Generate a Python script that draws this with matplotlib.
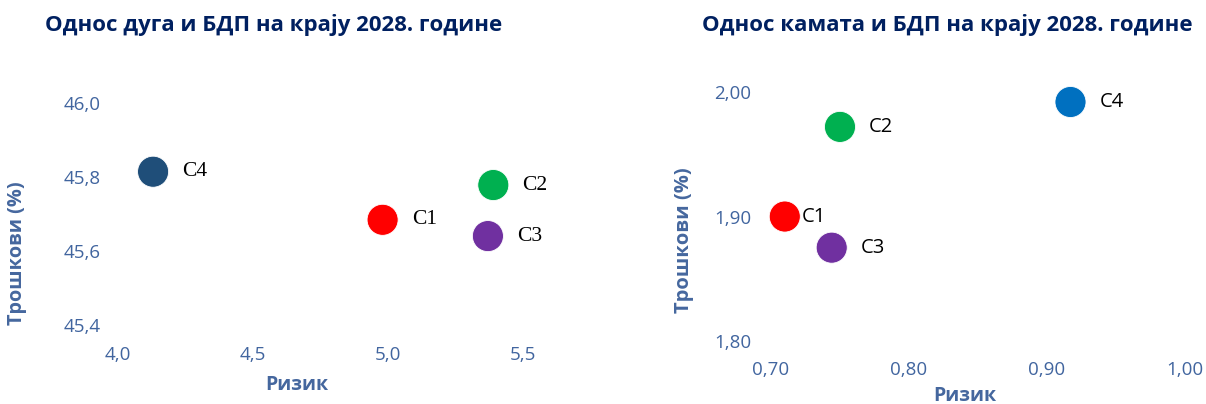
import matplotlib
matplotlib.use("Agg")
import matplotlib.pyplot as plt
from matplotlib.ticker import FixedLocator, FuncFormatter

# данни
names = ["C1", "C2", "C3", "C4"]
colors_left = ["#FF0000", "#00B050", "#7030A0", "#1F4E79"]
colors_right = ["#FF0000", "#00B050", "#7030A0", "#0070C0"]

debt_risk = [4.98, 5.39, 5.37, 4.13]
debt_cost = [45.684, 45.778, 45.640, 45.814]

int_risk = [0.710, 0.750, 0.744, 0.917]
int_cost = [1.900, 1.972, 1.875, 1.992]

left_xticks = [4.0, 4.5, 5.0, 5.5]
left_yticks = [45.4, 45.6, 45.8, 46.0]
right_xticks = [0.70, 0.80, 0.90, 1.00]
right_yticks = [1.80, 1.90, 2.00]

title_left = "Однос дуга и БДП на крају 2028. године"
title_right = "Однос камата и БДП на крају 2028. године"
xlab = "Ризик"
ylab = "Трошкови (%)"

tick_c = "#41659F"
lab_c = "#45679E"
title_c = "#002060"
font = ["Open Sans", "DejaVu Sans"]
plt.rcParams["font.family"] = font

W, H = 1206, 404
fig = plt.figure(figsize=(W / 100, H / 100), dpi=100)


def box(l, t, r, b):
    return [l / W, 1 - b / H, (r - l) / W, (b - t) / H]


def style(ax, xt, yt, fmt_x, fmt_y, xpad, ypad):
    for s in ax.spines.values():
        s.set_visible(False)
    ax.xaxis.set_major_locator(FixedLocator(xt))
    ax.yaxis.set_major_locator(FixedLocator(yt))
    ax.xaxis.set_major_formatter(FuncFormatter(lambda v, p: fmt_x.format(v).replace(".", ",")))
    ax.yaxis.set_major_formatter(FuncFormatter(lambda v, p: fmt_y.format(v).replace(".", ",")))
    ax.tick_params(length=0, labelsize=13.5, labelcolor=tick_c)
    ax.tick_params(axis="x", pad=xpad)
    ax.tick_params(axis="y", pad=ypad)


# левый график
ax1 = fig.add_axes(box(108, 80, 570, 340))
ax1.set_xlim(3.963, 5.674)
ax1.set_ylim(45.359, 46.062)
ax1.scatter(debt_risk, debt_cost, s=500, c=colors_left, edgecolors="white", linewidths=0.6, zorder=3)
for n, x, y in zip(names, debt_risk, debt_cost):
    ax1.annotate(n, (x, y), xytext=(21, 0), textcoords="offset points",
                 ha="left", va="center", fontsize=15.5, family="Liberation Serif", color="black")
style(ax1, left_xticks, left_yticks, "{:.1f}", "{:.1f}", 4, 5)

# десни график
ax2 = fig.add_axes(box(758, 70, 1195, 355))
ax2.set_xlim(0.6906, 1.0072)
ax2.set_ylim(1.7888, 2.0177)
ax2.scatter(int_risk, int_cost, s=500, c=colors_right, edgecolors="white", linewidths=0.6, zorder=3)
offs = [12, 21, 21, 21]
for n, x, y, o in zip(names, int_risk, int_cost, offs):
    ax2.annotate(n, (x, y), xytext=(o, 0), textcoords="offset points",
                 ha="left", va="center", fontsize=14.5, color="black")
style(ax2, right_xticks, right_yticks, "{:.2f}", "{:.2f}", 4, 5)

# наслови и ознаке оса
fig.text(45 / W, 1 - 25 / H, title_left, fontsize=16, fontweight="bold", color=title_c, ha="left", va="center")
fig.text(702 / W, 1 - 25 / H, title_right, fontsize=16, fontweight="bold", color=title_c, ha="left", va="center")
fig.text(297 / W, 1 - 385 / H, xlab, fontsize=14, fontweight="bold", color=lab_c, ha="center", va="center")
fig.text(965 / W, 1 - 396 / H, xlab, fontsize=14, fontweight="bold", color=lab_c, ha="center", va="center")
fig.text(17 / W, 1 - 253 / H, ylab, fontsize=14.3, fontweight="bold", color=lab_c, ha="center", va="center", rotation=90)
fig.text(684 / W, 1 - 240 / H, ylab, fontsize=14.5, fontweight="bold", color=lab_c, ha="center", va="center", rotation=90)

fig.savefig("out.png", dpi=100, facecolor="white")
